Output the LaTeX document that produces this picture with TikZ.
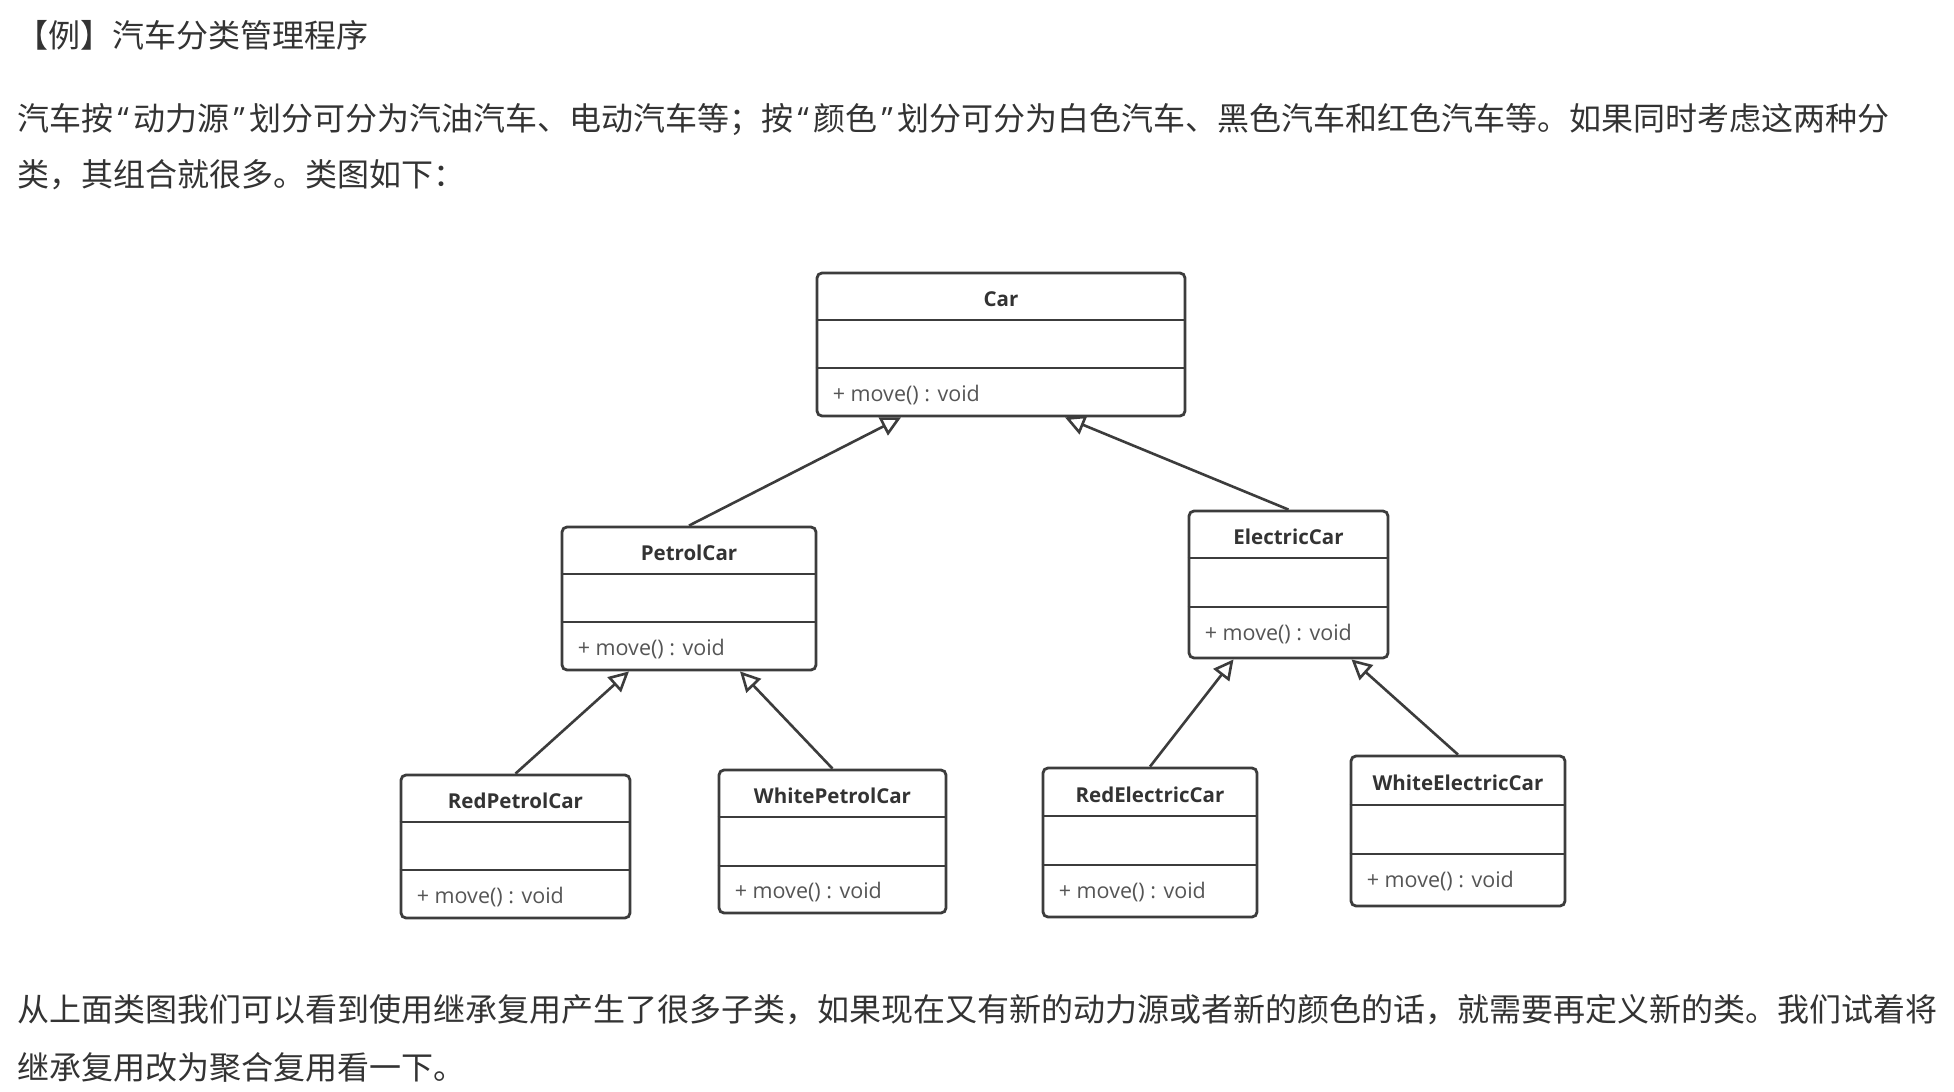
\documentclass[tikz,border=0pt]{standalone}
\usepackage{fontspec}
\newfontfamily\cjk{Noto Sans CJK SC}
\newfontfamily\umlf{Open Sans}
\usetikzlibrary{arrows.meta,fit}
\definecolor{linec}{HTML}{3C3C3C}
\definecolor{txtc}{HTML}{333333}
\definecolor{methc}{HTML}{555555}
\newcommand{\myopenq}{\makebox[20pt][c]{\umlf “}}
\newcommand{\mycloseq}{\makebox[20pt][c]{\umlf ”}}
\tikzset{
  classbox/.style={draw=linec, line width=2.8pt, rounded corners=5pt, inner sep=0pt, fill=white},
  divline/.style={draw=linec, line width=2.8pt},
  cname/.style={font=\umlf\bfseries\fontsize{20.5}{24}\selectfont, text=txtc, inner sep=0pt},
  cmeth/.style={font=\umlf\fontsize{21.5}{24}\selectfont, text=methc, inner sep=0pt, anchor=west},
  para/.style={font=\cjk\fontsize{32}{36}\selectfont, text=txtc, inner sep=0pt, anchor=base west},
  inherit/.style={draw=linec, line width=2.6pt, -{Triangle[open, length=20pt, width=20pt, line width=2.6pt]}}
}
\begin{document}
\begin{tikzpicture}[x=1pt, y=-1pt]
\useasboundingbox[fill=white] (0,0) rectangle (1954,1092);

% texts
\node[para] (title) at (16,47) {【例】汽车分类管理程序};
\node[para] (p1) at (17,130) {汽车按\myopenq 动力源\mycloseq 划分可分为汽油汽车、电动汽车等；按\myopenq 颜色\mycloseq 划分可分为白色汽车、黑色汽车和红色汽车等。如果同时考虑这两种分};
\node[para] (p2) at (17,186) {类，其组合就很多。类图如下：};
\node[para] (p3) at (17,1021) {从上面类图我们可以看到使用继承复用产生了很多子类，如果现在又有新的动力源或者新的颜色的话，就需要再定义新的类。我们试着将};
\node[para] (p4) at (17,1079) {继承复用改为聚合复用看一下。};

% Car
\node[classbox, fit={(817,273) (1185,416)}] (car) {};
\draw[divline] (car.west |- 0,320) -- (car.east |- 0,320);
\draw[divline] (car.west |- 0,368) -- (car.east |- 0,368);
\node[cname] (carT) at (car.north |- 0,299) {Car};
\node[cmeth] (carM) at ([xshift=17pt]car.west |- 0,395) {+ move() : void};

% PetrolCar
\node[classbox, fit={(562,527) (816,670)}] (petrol) {};
\draw[divline] (petrol.west |- 0,574) -- (petrol.east |- 0,574);
\draw[divline] (petrol.west |- 0,622) -- (petrol.east |- 0,622);
\node[cname] (petrolT) at (petrol.north |- 0,553) {PetrolCar};
\node[cmeth] (petrolM) at ([xshift=17pt]petrol.west |- 0,649) {+ move() : void};

% ElectricCar
\node[classbox, fit={(1189,511) (1388,658)}] (electric) {};
\draw[divline] (electric.west |- 0,558) -- (electric.east |- 0,558);
\draw[divline] (electric.west |- 0,607) -- (electric.east |- 0,607);
\node[cname] (electricT) at (electric.north |- 0,537) {ElectricCar};
\node[cmeth] (electricM) at ([xshift=17pt]electric.west |- 0,634) {+ move() : void};

% RedPetrolCar
\node[classbox, fit={(401,775) (630,918)}] (redpetrol) {};
\draw[divline] (redpetrol.west |- 0,822) -- (redpetrol.east |- 0,822);
\draw[divline] (redpetrol.west |- 0,870) -- (redpetrol.east |- 0,870);
\node[cname] (redpetrolT) at (redpetrol.north |- 0,801) {RedPetrolCar};
\node[cmeth] (redpetrolM) at ([xshift=17pt]redpetrol.west |- 0,897) {+ move() : void};

% WhitePetrolCar
\node[classbox, fit={(719,770) (946,913)}] (whitepetrol) {};
\draw[divline] (whitepetrol.west |- 0,817) -- (whitepetrol.east |- 0,817);
\draw[divline] (whitepetrol.west |- 0,866) -- (whitepetrol.east |- 0,866);
\node[cname] (whitepetrolT) at (whitepetrol.north |- 0,796) {WhitePetrolCar};
\node[cmeth] (whitepetrolM) at ([xshift=17pt]whitepetrol.west |- 0,892) {+ move() : void};

% RedElectricCar
\node[classbox, fit={(1043,768) (1257,917)}] (redelectric) {};
\draw[divline] (redelectric.west |- 0,816) -- (redelectric.east |- 0,816);
\draw[divline] (redelectric.west |- 0,865) -- (redelectric.east |- 0,865);
\node[cname] (redelectricT) at (redelectric.north |- 0,795) {RedElectricCar};
\node[cmeth] (redelectricM) at ([xshift=17pt]redelectric.west |- 0,892) {+ move() : void};

% WhiteElectricCar
\node[classbox, fit={(1351,756) (1565,906)}] (whiteelectric) {};
\draw[divline] (whiteelectric.west |- 0,805) -- (whiteelectric.east |- 0,805);
\draw[divline] (whiteelectric.west |- 0,854) -- (whiteelectric.east |- 0,854);
\node[cname] (whiteelectricT) at (whiteelectric.north |- 0,783) {WhiteElectricCar};
\node[cmeth] (whiteelectricM) at ([xshift=17pt]whiteelectric.west |- 0,881) {+ move() : void};

% inheritance
\draw[inherit] (petrol.north) -- ([xshift=-100pt]car.south);
\draw[inherit] (electric.north) -- ([xshift=64pt]car.south);
\draw[inherit] (redpetrol.north) -- ([xshift=-60pt]petrol.south);
\draw[inherit] (whitepetrol.north) -- ([xshift=51pt]petrol.south);
\draw[inherit] (redelectric.north) -- ([xshift=-55pt]electric.south);
\draw[inherit] (whiteelectric.north) -- ([xshift=63pt]electric.south);
\end{tikzpicture}
\end{document}
